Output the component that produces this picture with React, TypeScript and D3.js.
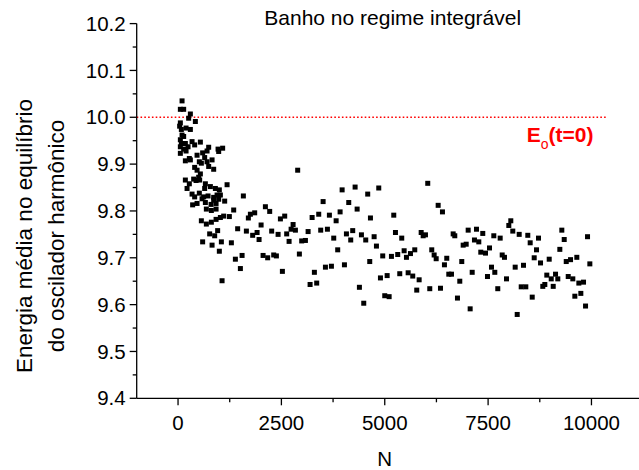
import React from "react";
import * as d3 from "d3";

const title = "Banho no regime integrável";
const xLabel = "N";
const yLabelLines = ["Energia média no equilíbrio", "do oscilador harmônico"];
const xTicks = [0, 2500, 5000, 7500, 10000];
const xMinorTicks = [1250, 3750, 6250, 8750];
const yTicks = [9.4, 9.5, 9.6, 9.7, 9.8, 9.9, 10.0, 10.1, 10.2];
const yMinorTicks = [9.45, 9.55, 9.65, 9.75, 9.85, 9.95, 10.05, 10.15];
const refEnergy = 10.0;
const refRange = [-1000, 10370];

// [N, energy]
const samples: [number, number][] = [
  [97, 10.035], [56, 10.017], [136, 10.017], [298, 10.007], [257, 9.998], [419, 9.991],
  [56, 9.988], [39, 9.981], [80, 9.974], [194, 9.977], [298, 9.974], [97, 9.962],
  [136, 9.959], [56, 9.952], [80, 9.944], [56, 9.937], [177, 9.944], [242, 9.937],
  [339, 9.948], [402, 9.941], [540, 9.947], [136, 9.932], [194, 9.928], [56, 9.923],
  [741, 9.936], [702, 9.928], [968, 9.932], [1079, 9.934], [983, 9.927], [460, 9.919],
  [595, 9.924], [177, 9.907], [273, 9.912], [298, 9.909], [644, 9.914], [515, 9.905],
  [564, 9.902], [702, 9.905], [823, 9.909], [741, 9.895], [862, 9.889], [402, 9.893],
  [460, 9.887], [540, 9.879], [499, 9.872], [177, 9.866], [378, 9.868], [436, 9.865],
  [523, 9.866], [661, 9.858], [1186, 9.856], [218, 9.848], [273, 9.858], [644, 9.848],
  [782, 9.852], [903, 9.848], [999, 9.845], [339, 9.836], [402, 9.83], [515, 9.838],
  [620, 9.83], [726, 9.832], [862, 9.829], [944, 9.834], [1024, 9.834], [581, 9.826],
  [862, 9.823], [983, 9.825], [1128, 9.821], [1580, 9.832], [353, 9.813], [460, 9.816],
  [661, 9.818], [799, 9.814], [920, 9.816], [685, 9.804], [806, 9.801], [920, 9.804],
  [1346, 9.802], [564, 9.779], [685, 9.772], [806, 9.776], [920, 9.782], [1024, 9.786],
  [1104, 9.789], [1241, 9.788], [1442, 9.762], [765, 9.751], [886, 9.747], [958, 9.758],
  [595, 9.734], [823, 9.727], [1048, 9.734], [1290, 9.732], [999, 9.714], [1387, 9.697],
  [1065, 9.651],
  [2894, 9.887], [2113, 9.809], [2217, 9.799], [1854, 9.796], [1750, 9.793], [1701, 9.785],
  [2009, 9.77], [1653, 9.757], [1805, 9.748], [1912, 9.754], [1960, 9.739], [2265, 9.757],
  [2420, 9.75], [2476, 9.783], [2580, 9.789], [2783, 9.771], [2735, 9.761], [2839, 9.759],
  [2628, 9.751], [2686, 9.735], [2991, 9.736], [3081, 9.737], [3146, 9.756], [3243, 9.786],
  [3403, 9.793], [3509, 9.82], [3661, 9.791], [3824, 9.779], [3920, 9.798], [3969, 9.845],
  [4283, 9.851], [4129, 9.818], [4332, 9.804], [4588, 9.836], [3451, 9.759], [3613, 9.761],
  [3766, 9.742], [4073, 9.751], [4225, 9.758], [4177, 9.738], [4436, 9.749], [4540, 9.738],
  [3862, 9.717], [1549, 9.705], [1508, 9.677], [2057, 9.705], [2168, 9.7], [2314, 9.706],
  [2379, 9.704], [2935, 9.708], [2524, 9.671], [3298, 9.669], [3565, 9.68], [3710, 9.682],
  [4025, 9.685], [3194, 9.643], [3354, 9.646], [4387, 9.637], [4492, 9.603], [4637, 9.692],
  [4654, 9.785],
  [6040, 9.859], [4855, 9.849], [6292, 9.812], [6396, 9.798], [5218, 9.791], [5259, 9.754],
  [5411, 9.742], [4743, 9.745], [4799, 9.725], [5881, 9.754], [5929, 9.747], [5985, 9.749],
  [6655, 9.751], [6694, 9.747], [7018, 9.759], [7219, 9.761], [7371, 9.752], [7638, 9.747],
  [7170, 9.738], [7275, 9.734], [6897, 9.727], [6970, 9.729], [7534, 9.721], [7323, 9.712],
  [7437, 9.71], [4951, 9.704], [5162, 9.703], [5314, 9.707], [5469, 9.715], [5622, 9.709],
  [5726, 9.717], [5525, 9.701], [6137, 9.717], [6195, 9.706], [6244, 9.698], [6500, 9.699],
  [6444, 9.685], [6863, 9.692], [6549, 9.665], [6614, 9.665], [7115, 9.669], [7582, 9.68],
  [7662, 9.669], [7485, 9.66], [4896, 9.657], [5058, 9.662], [5363, 9.666], [5566, 9.668],
  [5677, 9.661], [5832, 9.653], [6815, 9.65], [5774, 9.631], [6089, 9.634], [6348, 9.635],
  [5000, 9.619], [5106, 9.617], [6759, 9.614], [7066, 9.591],
  [8049, 9.779], [8001, 9.769], [8097, 9.757], [8252, 9.75], [8460, 9.748], [7792, 9.742],
  [8719, 9.742], [8518, 9.732], [9283, 9.759], [9341, 9.739], [9905, 9.745], [8671, 9.717],
  [9235, 9.718], [7841, 9.706], [7896, 9.701], [8615, 9.7], [8978, 9.697], [9390, 9.692],
  [9494, 9.696], [9646, 9.701], [9961, 9.687], [8768, 9.689], [8155, 9.68], [8356, 9.684],
  [7945, 9.655], [8920, 9.663], [9027, 9.655], [9131, 9.665], [9186, 9.655], [9438, 9.66],
  [9549, 9.655], [9695, 9.646], [9808, 9.648], [7734, 9.634], [8301, 9.638], [8412, 9.638],
  [8872, 9.643], [8823, 9.639], [9075, 9.639], [8567, 9.616], [9598, 9.618], [9743, 9.624],
  [9857, 9.597], [8204, 9.579],
];

const FONT = "'Liberation Sans', Arial, sans-serif";

export default function App() {
  const W = 639;
  const H = 470;
  const x = d3.scaleLinear().domain([-1000, 11150]).range([136.7, 639]);
  const y = d3.scaleLinear().domain([9.4, 10.2]).range([398.3, 23.6]);
  const x0 = x(-1000);
  const y0 = y(9.4);
  const ms = 5;
  const refLine = d3.line<number>().x((d) => x(d)).y(() => y(refEnergy));

  return (
    <svg
      width={W}
      height={H}
      style={{ position: "absolute", left: 0, top: 0, background: "#fff" }}
      fontFamily={FONT}
    >
      <rect width={W} height={H} fill="#fff" />
      {/* reference line */}
      <path
        d={refLine(refRange) || ""}
        stroke="#ff0000"
        strokeWidth={1.6}
        strokeDasharray="1.6,2.2"
        fill="none"
      />
      {/* points */}
      {samples.map(([n, e], i) => (
        <rect key={i} x={x(n) - ms / 2} y={y(e) - ms / 2} width={ms} height={ms} fill="#000" />
      ))}
      {/* axes */}
      <line x1={x0} x2={x0} y1={y(10.2)} y2={y0} stroke="#000" strokeWidth={1.3} />
      <line x1={x0} x2={W} y1={y0} y2={y0} stroke="#000" strokeWidth={1.3} />
      {yTicks.map((t) => (
        <g key={"yt" + t}>
          <line x1={x0 - 7} x2={x0} y1={y(t)} y2={y(t)} stroke="#000" strokeWidth={1.3} />
          <text x={x0 - 11} y={y(t)} dy="0.35em" textAnchor="end" fontSize={20.5}>
            {t.toFixed(1)}
          </text>
        </g>
      ))}
      {yMinorTicks.map((t) => (
        <line key={"ym" + t} x1={x0 - 4} x2={x0} y1={y(t)} y2={y(t)} stroke="#000" strokeWidth={1.3} />
      ))}
      {xTicks.map((t) => (
        <g key={"xt" + t}>
          <line x1={x(t)} x2={x(t)} y1={y0} y2={y0 + 7} stroke="#000" strokeWidth={1.3} />
          <text x={x(t)} y={430} textAnchor="middle" fontSize={20.5}>
            {t}
          </text>
        </g>
      ))}
      {xMinorTicks.map((t) => (
        <line key={"xm" + t} x1={x(t)} x2={x(t)} y1={y0} y2={y0 + 4} stroke="#000" strokeWidth={1.3} />
      ))}
      {/* labels */}
      <text x={x(5000)} y={466} textAnchor="middle" fontSize={20.5}>
        {xLabel}
      </text>
      {yLabelLines.map((l, i) => (
        <text
          key={l}
          transform={`translate(${31.5 + i * 32}, 236) rotate(-90)`}
          textAnchor="middle"
          fontSize={22.5}
        >
          {l}
        </text>
      ))}
      <text x={264.3} y={25} fontSize={21}>
        {title}
      </text>
      <text x={526.7} y={141.7} fill="#ff0000" fontWeight="bold" fontSize={21}>
        E
        <tspan dy={7} fontSize={14} fontWeight="normal">o</tspan>
        <tspan dy={-7} fontSize={21}>(t=0)</tspan>
      </text>
    </svg>
  );
}
